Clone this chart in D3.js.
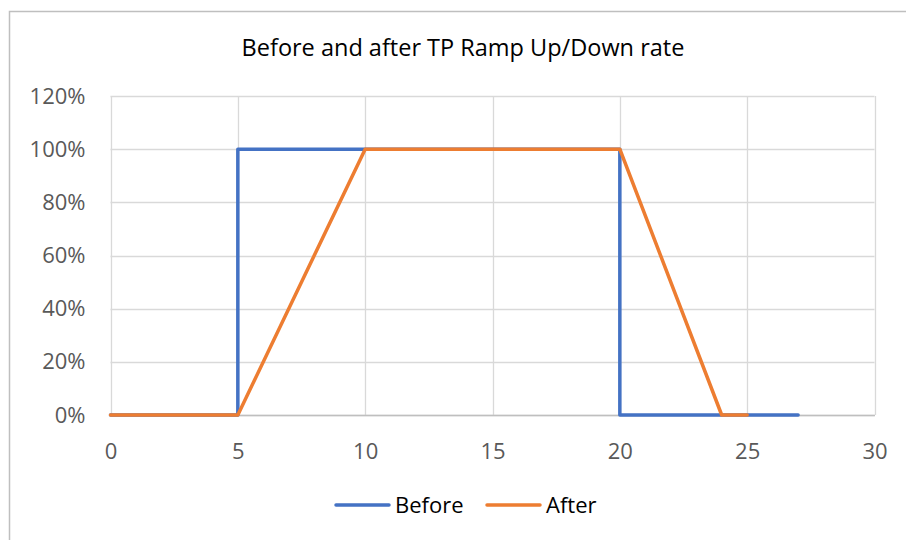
<!DOCTYPE html>
<html><head><meta charset="utf-8">
<script src="https://cdn.jsdelivr.net/npm/d3@7"></script>
<style>body{margin:0;background:#fff}svg{display:block}</style>
</head><body>
<svg id="c" width="906" height="540"></svg>
<script>
const title = "Before and after TP Ramp Up/Down rate";
const seriesNames = ["Before", "After"];
const beforeX = [0, 5, 5, 20, 20, 27];
const beforeY = [0, 0, 1, 1, 0, 0];
const afterX = [0, 5, 10, 20, 24, 25];
const afterY = [0, 0, 1, 1, 0, 0];
const xTicks = [0, 5, 10, 15, 20, 25, 30];
const yTicks = [0, 0.2, 0.4, 0.6, 0.8, 1.0, 1.2];
const colors = ["#4472C4", "#ED7D31"];

const svg = d3.select("#c");
const font = "'Open Sans', 'Segoe UI', sans-serif";
const textColor = "#595959";

// chart border
svg.append("path").attr("d", "M9.5,540 V11.5 H906").attr("fill", "none").attr("stroke", "#BFBFBF").attr("stroke-width", 1.5);

const x = d3.scaleLinear().domain([0, 30]).range([110.5, 874.5]);
const y = d3.scaleLinear().domain([0, 1.2]).range([415, 96]);

// gridlines
svg.append("g").selectAll("line").data(yTicks).join("line")
  .attr("x1", x(0)).attr("x2", x(30))
  .attr("y1", d => Math.round(y(d)) + 0.5).attr("y2", d => Math.round(y(d)) + 0.5)
  .attr("stroke", "#D9D9D9").attr("stroke-width", 1.3);
svg.append("g").selectAll("line").data(xTicks).join("line")
  .attr("x1", d => Math.round(x(d)) + 0.5).attr("x2", d => Math.round(x(d)) + 0.5)
  .attr("y1", y(1.2)).attr("y2", y(0))
  .attr("stroke", "#D9D9D9").attr("stroke-width", 1.3);

// axes
const yAxis = d3.axisLeft(y).tickValues(yTicks).tickFormat(d3.format(".0%")).tickSize(0).tickPadding(25);
const gy = svg.append("g").attr("transform", `translate(${x(0)},0)`).call(yAxis);
gy.select(".domain").remove();
gy.selectAll("text").attr("fill", textColor).style("font-family", font).style("font-size", "22px");

const xAxis = d3.axisBottom(x).tickValues(xTicks).tickSize(0).tickPadding(28);
const gx = svg.append("g").attr("transform", `translate(0,${y(0)})`).call(xAxis);
gx.select(".domain").attr("stroke", "#BFBFBF").attr("stroke-width", 1.3);
gx.selectAll("text").attr("fill", textColor).style("font-family", font).style("font-size", "22px");

// lines
const line = d3.line().x(d => x(d[0])).y(d => y(d[1]));
const before = beforeX.map((v, i) => [v, beforeY[i]]);
const after = afterX.map((v, i) => [v, afterY[i]]);
[before, after].forEach((data, i) => {
  svg.append("path").datum(data).attr("d", line)
    .attr("fill", "none").attr("stroke", colors[i]).attr("stroke-width", 3.5)
    .attr("stroke-linejoin", "round").attr("stroke-linecap", "round");
});

// title
svg.append("text").attr("x", 463).attr("y", 56).attr("text-anchor", "middle")
  .attr("fill", "#000").style("font-family", font).style("font-size", "23.5px").text(title);

// legend
const legX = [336, 487];
seriesNames.forEach((n, i) => {
  svg.append("line").attr("x1", legX[i]).attr("x2", legX[i] + 53).attr("y1", 505).attr("y2", 505)
    .attr("stroke", colors[i]).attr("stroke-width", 3.5).attr("stroke-linecap", "round");
  svg.append("text").attr("x", legX[i] + 59).attr("y", 513).attr("fill", "#000")
    .style("font-family", font).style("font-size", "22px").text(n);
});
</script>
</body></html>
